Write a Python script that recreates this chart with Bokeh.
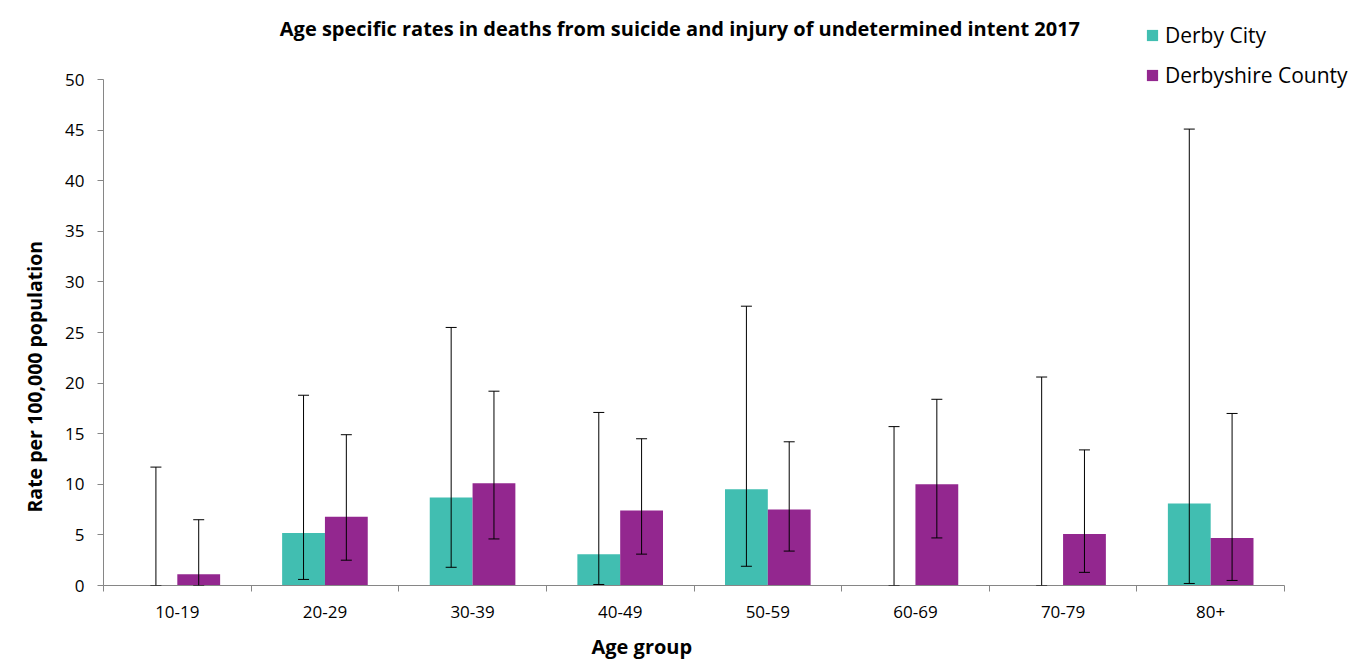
from bokeh.plotting import figure
from bokeh.models import (ColumnDataSource, Range1d, FixedTicker, Whisker, TeeHead,
                          Label, Legend, LegendItem, Title)
from bokeh.transform import dodge
from bokeh.embed import file_html
from bokeh.resources import INLINE

categories = ["10-19", "20-29", "30-39", "40-49", "50-59", "60-69", "70-79", "80+"]
city_rate = [0.0, 5.2, 8.7, 3.1, 9.5, 0.0, 0.0, 8.1]
city_lower = [0.0, 0.6, 1.8, 0.1, 1.9, 0.0, 0.0, 0.2]
city_upper = [11.7, 18.8, 25.5, 17.1, 27.6, 15.7, 20.6, 45.1]
county_rate = [1.1, 6.8, 10.1, 7.4, 7.5, 10.0, 5.1, 4.7]
county_lower = [0.0, 2.5, 4.6, 3.1, 3.4, 4.7, 1.3, 0.5]
county_upper = [6.5, 14.9, 19.2, 14.5, 14.2, 18.4, 13.4, 17.0]
y_ticks = [0, 5, 10, 15, 20, 25, 30, 35, 40, 45, 50]
y_max = 50

TEAL = "#41BEB1"
PURPLE = "#93278F"
AXIS = "#868686"
FONT = "Open Sans"

n = len(categories)
centers = [i + 0.5 for i in range(n)]
src = ColumnDataSource(dict(
    x=centers, cat=categories,
    city=city_rate, city_lo=city_lower, city_hi=city_upper,
    county=county_rate, county_lo=county_lower, county_hi=county_upper,
))

# frame spans from the left axis to the right edge and from the top edge to the x axis;
# axis lines are limited with bounds so the plotting area matches the reference
p = figure(width=1349, height=664, frame_width=1246, frame_height=585,
           x_range=Range1d(0, n * 1246 / 1181), y_range=Range1d(0, y_max * 585 / 506),
           output_backend="svg", toolbar_location=None,
           min_border_left=103, min_border_right=0,
           min_border_top=0, min_border_bottom=79)
p.outline_line_color = None
p.xgrid.visible = False
p.ygrid.visible = False
p.background_fill_color = "white"
p.border_fill_color = "white"

BW = 0.29
r_city = p.vbar(x=dodge("x", -BW / 2), top="city", width=BW, source=src,
                fill_color=TEAL, line_color=None)
r_county = p.vbar(x=dodge("x", BW / 2), top="county", width=BW, source=src,
                  fill_color=PURPLE, line_color=None)

for xcol, lo, hi in ((dodge("x", -BW / 2), "city_lo", "city_hi"),
                     (dodge("x", BW / 2), "county_lo", "county_hi")):
    w = Whisker(source=src, base=xcol, lower=lo, upper=hi, dimension="height",
                line_color="black", line_width=1, level="overlay",
                upper_head=TeeHead(size=11, line_color="black", line_width=1),
                lower_head=TeeHead(size=11, line_color="black", line_width=1))
    p.add_layout(w)

# x axis: labels at centers, ticks at category boundaries
xa = p.xaxis[0]
xa.bounds = (0, n)
xa.ticker = FixedTicker(ticks=centers, minor_ticks=list(range(n + 1)))
xa.major_label_overrides = {c: lab for c, lab in zip(centers, categories)}
xa.major_tick_out = 0
xa.major_tick_in = 0
xa.minor_tick_out = 6
xa.minor_tick_in = 0
xa.minor_tick_line_color = AXIS
xa.axis_line_color = AXIS
xa.major_label_text_font = FONT
xa.major_label_text_font_size = "17px"
xa.major_label_text_color = "black"
xa.major_label_standoff = 14

ya = p.yaxis[0]
ya.bounds = (0, y_max)
ya.ticker = FixedTicker(ticks=y_ticks)
ya.minor_tick_line_color = None
ya.major_tick_out = 6
ya.major_tick_in = 0
ya.major_tick_line_color = AXIS
ya.axis_line_color = AXIS
ya.major_label_text_font = FONT
ya.major_label_text_font_size = "17px"
ya.major_label_text_color = "black"
ya.major_label_standoff = 13

# chart title inside the (extended) frame
p.add_layout(Label(x=n * (682 - 103) / 1181, y=y_max * (585 - 28) / 506,
                   text="Age specific rates in deaths from suicide and injury of undetermined intent  2017",
                   text_font=FONT, text_font_size="20px", text_font_style="bold",
                   text_align="center", text_baseline="middle", text_color="black"))

# axis titles as side-panel titles with offsets
p.add_layout(Title(text="Age group", align="left", offset=488, standoff=21,
                   text_font=FONT, text_font_size="20px", text_font_style="bold",
                   text_color="black"), "below")
p.add_layout(Title(text="Rate per 100,000 population", align="left", offset=73, standoff=26,
                   vertical_align="top",
                   text_font=FONT, text_font_size="19.5px", text_font_style="bold",
                   text_color="black"), "left")

legend = Legend(items=[LegendItem(label="Derby City", renderers=[r_city]),
                       LegendItem(label="Derbyshire County", renderers=[r_county])],
                location=(1042, 496), orientation="vertical",
                label_text_font=FONT, label_text_font_size="21px", label_text_color="black",
                glyph_width=14, glyph_height=14, label_standoff=6, spacing=12,
                padding=0, margin=0, border_line_color=None, background_fill_alpha=0)
p.add_layout(legend)

open("out.html", "w").write(file_html(p, INLINE))
